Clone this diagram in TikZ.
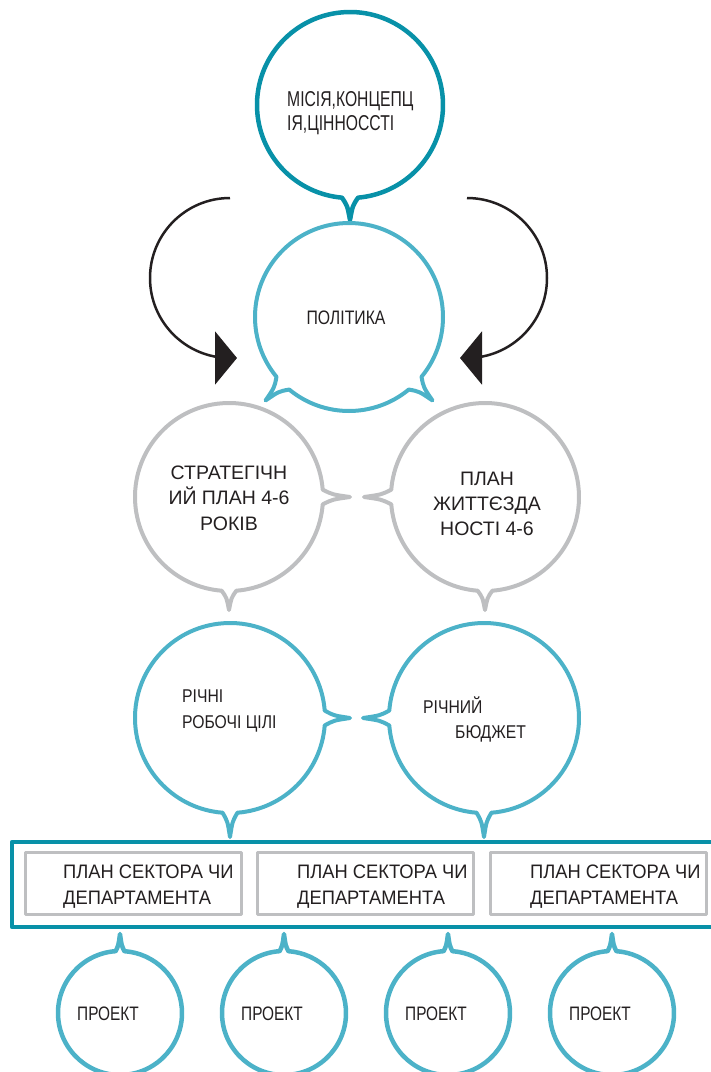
\documentclass[tikz,border=0pt]{standalone}
\usepackage{fontspec}
\setmainfont{Liberation Sans}
\newfontfamily\fmis{Liberation Sans}[FakeStretch=0.73]
\newfontfamily\fpol{Liberation Sans}[FakeStretch=0.81]
\newfontfamily\fgr{Liberation Sans}[FakeStretch=1.0]
\newfontfamily\fbl{Liberation Sans}[FakeStretch=0.85]
\newfontfamily\fsec{Liberation Sans}[FakeStretch=0.94]
\newfontfamily\fpro{Liberation Sans}[FakeStretch=0.79]
\usetikzlibrary{calc,arrows.meta}
\definecolor{tealD}{RGB}{8,145,168}
\definecolor{tealL}{RGB}{76,178,200}
\definecolor{grayC}{RGB}{190,191,193}
\definecolor{ink}{RGB}{35,31,32}
% spike: center, radius, angle, half angle, length
\newcommand\spike[5]{.. controls ($(#1)+({#3-0.3*#4}:{#2+0.35*#5})$) .. ($(#1)+(#3:{#2+#5})$) .. controls ($(#1)+({#3+0.3*#4}:{#2+0.35*#5})$) .. ($(#1)+({#3+#4}:#2)$)}
\begin{document}
\begin{tikzpicture}[x=1pt,y=1pt,line join=round,
  misb/.style={draw=tealD,line width=4.5pt},
  tb/.style={draw=tealL,line width=4pt},
  gb/.style={draw=grayC,line width=4pt},
  outerbox/.style={draw=tealD,line width=4.5pt},
  secbox/.style={draw=grayC,line width=2.5pt,minimum width=216pt,minimum height=62pt,inner sep=0pt},
  txt/.style={text=ink,inner sep=0pt},
  arr/.style={draw=ink,line width=2.5pt,-{Triangle[length=22pt,width=53pt]}}]
\useasboundingbox (0,0) rectangle (711,-1072);
\clip (0,0) rectangle (711,-1072);
% centres
\coordinate (m) at (350,-105);
\coordinate (p) at (349,-317);
\coordinate (gl) at (229,-497);
\coordinate (gr) at (485,-497);
\coordinate (bl) at (230,-718);
\coordinate (br) at (484,-718);
\coordinate (p1) at (120,-1013);
\coordinate (p2) at (284,-1013);
\coordinate (p3) at (448,-1013);
\coordinate (p4) at (612,-1013);
% mission
\draw[misb] ($(m)+(-85:93)$) arc[start angle=-85,end angle=265,radius=93] \spike{m}{93}{270}{5}{22} -- cycle;
\node[txt,anchor=base west,align=left,font={\fmis\fontsize{21.5}{24}\selectfont}] (tmis) at (287,-130) {МІСІЯ,КОНЦЕПЦ\\ІЯ,ЦІННОССТІ};
% politics
\draw[tb] ($(p)+(-39.5:94)$) arc[start angle=-39.5,end angle=219.5,radius=94] \spike{p}{94}{225}{5.5}{24} arc[start angle=230.5,end angle=309.5,radius=94] \spike{p}{94}{315}{5.5}{24} -- cycle;
\node[txt,anchor=base,font={\fpol\fontsize{19.5}{22}\selectfont}] (tpol) at (346,-324) {ПОЛІТИКА};
% arrows
\coordinate (la0) at (230,-198);
\coordinate (la1) at (237,-358);
\coordinate (ra0) at (467,-198);
\coordinate (ra1) at (460,-358);
\draw[arr] (la0) arc[start angle=90,end angle=270,radius=80] -- (la1);
\draw[arr] (ra0) arc[start angle=90,end angle=-90,radius=80] -- (ra1);
% gray
\draw[gb] ($(gl)+(4.5:94)$) arc[start angle=4.5,end angle=265.5,radius=94] \spike{gl}{94}{270}{4.5}{19} arc[start angle=274.5,end angle=355.5,radius=94] \spike{gl}{94}{360}{4.5}{27} -- cycle;
\draw[gb] ($(gr)+(274.5:94)$) arc[start angle=274.5,end angle=535.5,radius=94] \spike{gr}{94}{540}{4.5}{27} arc[start angle=544.5,end angle=625.5,radius=94] \spike{gr}{94}{630}{4.5}{19} -- cycle;
\node[txt,anchor=base,align=center,font={\fgr\fontsize{19.5}{25.5}\selectfont}] (tgl) at (229,-530) {СТРАТЕГІЧН\\ИЙ ПЛАН 4-6\\РОКІВ};
\node[txt,anchor=base,align=center,font={\fgr\fontsize{19.5}{25}\selectfont}] (tgr) at (487,-535) {ПЛАН\\ЖИТТЄЗДА\\НОСТІ 4-6};
% blue
\draw[tb] ($(bl)+(4.5:95)$) arc[start angle=4.5,end angle=265.5,radius=95] \spike{bl}{95}{270}{4.5}{24} arc[start angle=274.5,end angle=355.5,radius=95] \spike{bl}{95}{360}{4.5}{25} -- cycle;
\draw[tb] ($(br)+(274.5:95)$) arc[start angle=274.5,end angle=535.5,radius=95] \spike{br}{95}{540}{4.5}{26} arc[start angle=544.5,end angle=625.5,radius=95] \spike{br}{95}{630}{4.5}{24} -- cycle;
\node[txt,anchor=base west,align=left,font={\fbl\fontsize{18.5}{26}\selectfont}] (tbl) at (182,-728) {РІЧНІ\\РОБОЧІ ЦІЛІ};
\node[txt,anchor=base west,align=left,font={\fbl\fontsize{18.5}{25}\selectfont}] (tbr) at (423,-738) {РІЧНИЙ\\\hspace*{32pt}БЮДЖЕТ};
% sector frame
\draw[outerbox] (12,-842) rectangle (730,-927);
\node[secbox] (s1) at (133.5,-883.5) {};
\node[secbox] (s2) at (365.5,-883.5) {};
\node[secbox] (s3) at (598.5,-883.5) {};
\node[txt,anchor=base west,align=left,font={\fsec\fontsize{19.5}{26}\selectfont}] (ts1) at (63,-904) {ПЛАН СЕКТОРА ЧИ\\ДЕПАРТАМЕНТА};
\node[txt,anchor=base west,align=left,font={\fsec\fontsize{19.5}{26}\selectfont}] (ts2) at (297,-904) {ПЛАН СЕКТОРА ЧИ\\ДЕПАРТАМЕНТА};
\node[txt,anchor=base west,align=left,font={\fsec\fontsize{19.5}{26}\selectfont}] (ts3) at (530,-904) {ПЛАН СЕКТОРА ЧИ\\ДЕПАРТАМЕНТА};
% projects
\foreach \c in {p1,p2,p3,p4}{
  \draw[tb,line width=4.5pt] ($(\c)+(94:62)$) arc[start angle=94,end angle=446,radius=62] \spike{\c}{62}{450}{4}{17} -- cycle;
  \node[txt,anchor=base,font={\fpro\fontsize{19.5}{22}\selectfont}] (t\c) at ($(\c)+(-12,-7)$) {ПРОЕКТ};
}
\end{tikzpicture}
\end{document}
